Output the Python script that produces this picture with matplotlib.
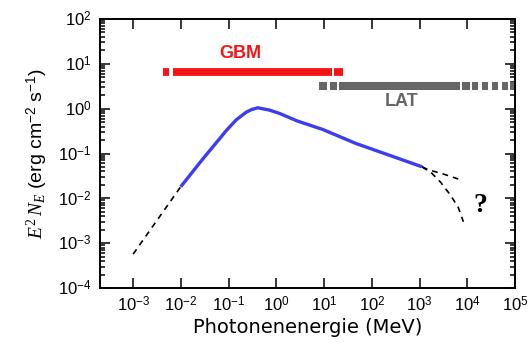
import matplotlib
matplotlib.use('Agg')
import matplotlib.pyplot as plt
from matplotlib.ticker import LogLocator, NullLocator, NullFormatter, FixedLocator, FixedFormatter

# ---- data ----
spec_E = [0.0099, 0.0153, 0.0289, 0.0551, 0.0891, 0.144, 0.233, 0.302, 0.407, 0.714, 1.16, 2.79, 9.27, 46.1, 1130]
spec_Y = [0.0181, 0.0324, 0.0759, 0.174, 0.324, 0.562, 0.832, 0.955, 1.047, 0.931, 0.785, 0.528, 0.345, 0.168, 0.0505]

low_E = [1.0e-3, 0.0099]
low_Y = [5.7e-4, 0.0181]

hi1_E = [1130, 1550, 2880, 6460]
hi1_Y = [0.0505, 0.043, 0.036, 0.027]

hi2_E = [1130, 1820, 2750, 4470, 6460, 8300]
hi2_Y = [0.0505, 0.036, 0.023, 0.0117, 0.0063, 0.0030]

gbm_start = [4.2e-3, 6.8e-3, 16.2]
gbm_end = [5.6e-3, 14.8, 25.1]
gbm_level = 6.6

lat_start = [7.9, 13.4, 20.6, 7600, 12300, 20000, 32400, 52500, 79400]
lat_end = [11.6, 18.7, 6900, 11200, 17000, 27500, 44700, 72400, 100000]
lat_level = 3.2

xtick_vals = [1e-3, 1e-2, 1e-1, 1e0, 1e1, 1e2, 1e3, 1e4, 1e5]
xtick_labels = [r'$10^{-3}$', r'$10^{-2}$', r'$10^{-1}$', r'$10^{0}$', r'$10^{1}$',
                r'$10^{2}$', r'$10^{3}$', r'$10^{4}$', r'$10^{5}$']
ytick_vals = [1e-4, 1e-3, 1e-2, 1e-1, 1e0, 1e1, 1e2]
ytick_labels = [r'$10^{-4}$', r'$10^{-3}$', r'$10^{-2}$', r'$10^{-1}$', r'$10^{0}$',
                r'$10^{1}$', r'$10^{2}$']

# ---- style ----
plt.rcParams['mathtext.fontset'] = 'custom'
plt.rcParams['mathtext.rm'] = 'Liberation Sans'
plt.rcParams['mathtext.it'] = 'Liberation Serif:italic'
plt.rcParams['mathtext.sf'] = 'Liberation Serif'
plt.rcParams['mathtext.bf'] = 'Liberation Sans:bold'

fig = plt.figure(figsize=(5.31, 3.44), dpi=100)
ax = fig.add_axes([100/531, 1-288/344, 415/531, 269/344])
ax.set_xscale('log')
ax.set_yscale('log')
ax.set_xlim(10**-3.695, 1e5)
ax.set_ylim(1e-4, 1e2)

red = '#f41414'
grey = '#666666'
for s, e in zip(gbm_start, gbm_end):
    ax.plot([s, e], [gbm_level, gbm_level], color=red, lw=5.6, solid_capstyle='butt', zorder=2)
for s, e in zip(lat_start, lat_end):
    ax.plot([s, e], [lat_level, lat_level], color=grey, lw=5.8, solid_capstyle='butt', zorder=2)

ax.plot(spec_E, spec_Y, color='#3c3cf0', lw=2.4, solid_capstyle='butt',
        solid_joinstyle='round', zorder=3)
dash_kw = dict(color='black', lw=1.2, dashes=(3.5, 3), zorder=2)
ax.plot(low_E, low_Y, **dash_kw)
ax.plot(hi1_E, hi1_Y, **dash_kw)
ax.plot(hi2_E, hi2_Y, **dash_kw)

ax.text(0.178, 16.6, 'GBM', color=red, fontsize=13, fontweight='bold',
        family='Liberation Sans', ha='center', va='center')
ax.text(427, 1.48, 'LAT', color=grey, fontsize=13, fontweight='bold',
        family='Liberation Sans', ha='center', va='center')
ax.text(19000, 0.0071, '?', color='black', fontsize=20, fontweight='bold',
        family='Liberation Serif', ha='center', va='center')

ax.xaxis.set_major_locator(FixedLocator(xtick_vals))
ax.xaxis.set_major_formatter(FixedFormatter(xtick_labels))
ax.xaxis.set_minor_locator(NullLocator())
ax.yaxis.set_major_locator(FixedLocator(ytick_vals))
ax.yaxis.set_major_formatter(FixedFormatter(ytick_labels))
ax.yaxis.set_minor_locator(LogLocator(base=10, subs=[2, 3, 4, 5, 6, 7, 8, 9], numticks=20))
ax.yaxis.set_minor_formatter(NullFormatter())

ax.tick_params(which='both', direction='in', top=True, right=True, width=1.1, labelsize=12)
ax.tick_params(which='major', length=7, pad=6)
ax.tick_params(which='minor', length=3.5)
for sp in ax.spines.values():
    sp.set_linewidth(1.4)

ax.set_xlabel('Photonenenergie (MeV)', fontsize=14, family='DejaVu Sans', labelpad=2)
ax.set_ylabel(r'$E^{\mathsf{2}}\,N_{E}$ (erg cm$^{-2}$ s$^{-1}$)', fontsize=14,
              family='Liberation Sans', labelpad=6)

fig.savefig('out.png', dpi=100)
